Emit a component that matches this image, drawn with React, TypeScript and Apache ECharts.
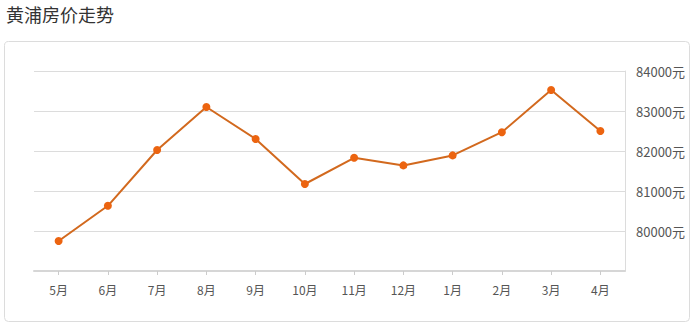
import React, { useEffect, useRef } from "react";
import * as echarts from "echarts";

const titleText = "黄浦房价走势";
const months = ["5月", "6月", "7月", "8月", "9月", "10月", "11月", "12月", "1月", "2月", "3月", "4月"];
const prices = [79750, 80630, 82025, 83100, 82300, 81175, 81830, 81640, 81890, 82470, 83525, 82500];
const yMin = 79000;
const yMax = 84000;
const yStep = 1000;

const FONT = "'Noto Sans CJK SC', 'Noto Sans', sans-serif";

export default function App() {
  const ref = useRef<HTMLDivElement>(null);
  useEffect(() => {
    if (!ref.current) return;
    const chart = echarts.init(ref.current, undefined, { renderer: "svg" });
    chart.setOption({
      animation: false,
      backgroundColor: "#fff",
      title: {
        text: titleText,
        left: 1,
        top: 0,
        textStyle: { fontFamily: FONT, fontSize: 18, fontWeight: "normal", color: "#333" },
      },
      graphic: [
        {
          type: "rect",
          shape: { x: 4.5, y: 41.5, width: 685, height: 280, r: 4 },
          style: { fill: "none", stroke: "#dcdcdc", lineWidth: 1 },
          silent: true,
          z: -1,
        },
      ],
      grid: { left: 34, right: 68, top: 71, bottom: 56 },
      xAxis: {
        type: "category",
        data: months,
        boundaryGap: true,
        axisLine: { show: true, lineStyle: { color: "#d6d6d6", width: 2 } },
        axisTick: { show: true, alignWithLabel: true, length: 4, lineStyle: { color: "#ccc" } },
        axisLabel: { fontFamily: FONT, fontSize: 12, color: "#555", margin: 12 },
        splitLine: { show: false },
      },
      yAxis: {
        type: "value",
        position: "right",
        min: yMin,
        max: yMax,
        interval: yStep,
        axisLine: { show: true, lineStyle: { color: "#dcdcdc", width: 1 } },
        axisTick: { show: false },
        axisLabel: {
          fontFamily: FONT,
          fontSize: 13,
          color: "#555",
          margin: 11,
          formatter: (v: number) => (v === yMin ? "" : v + "元"),
        },
        splitLine: { show: true, lineStyle: { color: "#dcdcdc", width: 1 } },
      },
      series: [
        {
          type: "line",
          data: prices,
          symbol: "circle",
          symbolSize: 8,
          lineStyle: { color: "#d2691e", width: 2 },
          itemStyle: { color: "#ec6410" },
        },
      ],
    });
    return () => chart.dispose();
  }, []);
  return (
    <div
      ref={ref}
      style={{ position: "fixed", left: 0, top: 0, width: 693, height: 327, background: "#fff" }}
    />
  );
}
